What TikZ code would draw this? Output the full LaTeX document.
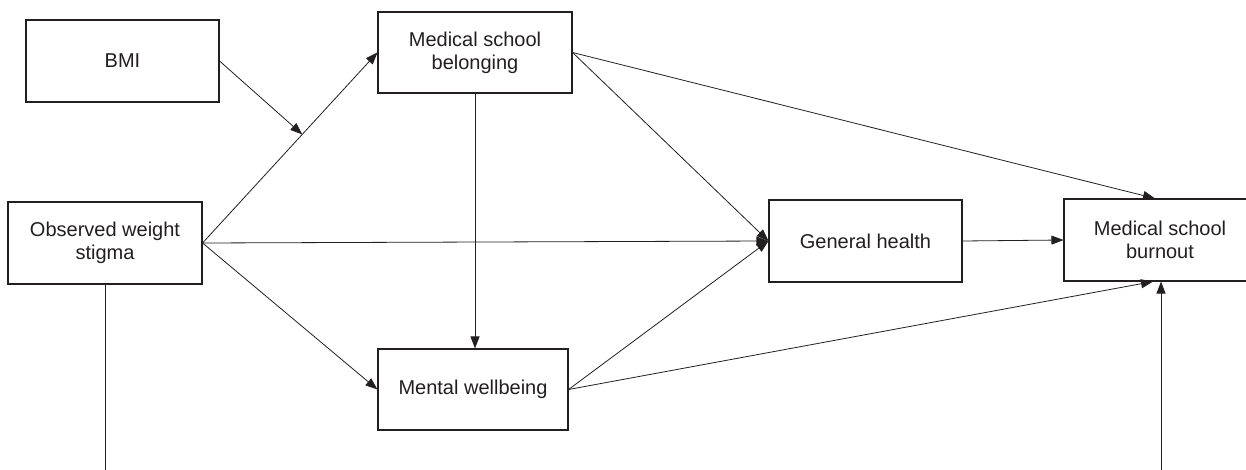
\documentclass[tikz,border=0pt]{standalone}
\usepackage{fontspec}
\setmainfont{Liberation Sans}
\usetikzlibrary{arrows.meta,calc}
\definecolor{ink}{RGB}{35,31,32}
\begin{document}
\begin{tikzpicture}[x=1pt,y=-1pt,
  box/.style={draw=ink,line width=1.1pt,fill=white,text=ink,align=center,
    inner sep=0pt,font=\fontsize{20}{23}\selectfont},
  arr/.style={draw=ink,line width=0.8pt,-{Triangle[length=12pt,width=9pt]}},
  ln/.style={draw=ink,line width=0.9pt}]
\clip (0,0) rectangle (1246,470);
\fill[white] (0,0) rectangle (1246,470);
\node[box,minimum width=193pt,minimum height=82pt] (bmi) at (122.5,61) {BMI};
\node[box,minimum width=194pt,minimum height=81pt] (belong) at (475,52.5) {Medical school\\belonging};
\node[box,minimum width=194pt,minimum height=82pt] (ows) at (105,243) {Observed weight\\stigma};
\node[box,minimum width=190pt,minimum height=81pt] (mental) at (473,389.5) {Mental wellbeing};
\node[box,minimum width=193pt,minimum height=82pt] (gh) at (865.5,241) {General health};
\node[box,minimum width=192pt,minimum height=82pt] (burn) at (1160,240) {Medical school\\burnout};
\coordinate (owsend) at (105,470);
\coordinate (burnin) at (1161,470);
\coordinate (mod) at ($(ows.east)!0.57!(belong.west)$);
% connectors
\draw[arr] (ows.east) -- (belong.west);
\draw[arr] (bmi.east) -- (mod);
\draw[arr] (ows.east) -- (gh.west);
\draw[arr] (ows.east) -- (mental.west);
\draw[arr] (belong.south) -- (belong.south |- mental.north);
\draw[arr] (belong.east) -- (gh.west);
\draw[arr] (belong.east) -- ([xshift=-5pt]burn.north);
\draw[arr] (mental.east) -- (gh.west);
\draw[arr] (mental.east) -- ([xshift=-7pt]burn.south);
\draw[arr] (gh.east) -- (burn.west);
\draw[ln] (ows.south) -- (owsend);
\draw[arr] (burnin) -- (burnin |- burn.south);
\end{tikzpicture}
\end{document}
